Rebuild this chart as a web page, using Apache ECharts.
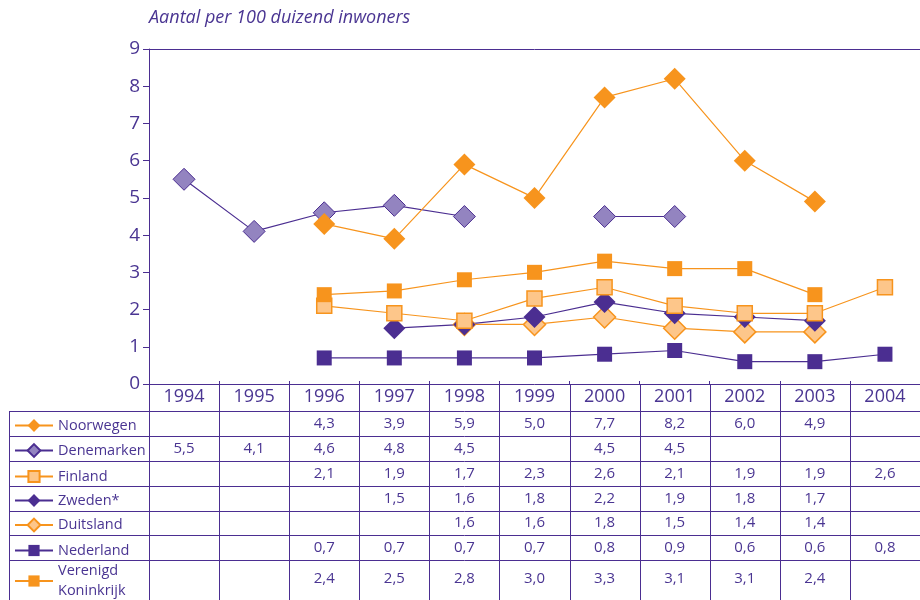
<!DOCTYPE html>
<html>
<head>
<meta charset="utf-8">
<script src="https://cdn.jsdelivr.net/npm/echarts@6/dist/echarts.min.js"></script>
<style>
html,body{margin:0;padding:0;background:#fff;}
#c{width:920px;height:600px;}
</style>
</head>
<body>
<div id="c"></div>
<script>
// ---- data ----
const years = ['1994','1995','1996','1997','1998','1999','2000','2001','2002','2003','2004'];
const yTicks = [0,1,2,3,4,5,6,7,8,9];
const titleText = 'Aantal per 100 duizend inwoners';
const noorwegen  = [null,null,4.3,3.9,5.9,5.0,7.7,8.2,6.0,4.9,null];
const denemarken = [5.5,4.1,4.6,4.8,4.5,null,4.5,4.5,null,null,null];
const finland    = [null,null,2.1,1.9,1.7,2.3,2.6,2.1,1.9,1.9,2.6];
const zweden     = [null,null,null,1.5,1.6,1.8,2.2,1.9,1.8,1.7,null];
const duitsland  = [null,null,null,null,1.6,1.6,1.8,1.5,1.4,1.4,null];
const nederland  = [null,null,0.7,0.7,0.7,0.7,0.8,0.9,0.6,0.6,0.8];
const vk         = [null,null,2.4,2.5,2.8,3.0,3.3,3.1,3.1,2.4,null];
const tableOrder = ['Noorwegen','Denemarken','Finland','Zweden*','Duitsland','Nederland','Verenigd Koninkrijk'];

// ---- styles ----
const PURPLE = '#4B2E91';
const TEXT = '#4A3592';
const ORANGE = '#F7941D';
const LORANGE = '#FDC68A';
const LAVENDER = '#9384C0';
const FONT = '"Open Sans", "Noto Sans", sans-serif';

const defs = {
  'Noorwegen':  {data: noorwegen,  symbol:'diamond', size:22, fill:ORANGE,   border:ORANGE, line:ORANGE, bw:0},
  'Denemarken': {data: denemarken, symbol:'diamond', size:22, fill:LAVENDER, border:PURPLE, line:PURPLE, bw:1},
  'Finland':    {data: finland,    symbol:'rect',    size:15, fill:LORANGE,  border:ORANGE, line:ORANGE, bw:1.5},
  'Zweden*':    {data: zweden,     symbol:'diamond', size:22, fill:PURPLE,   border:PURPLE, line:PURPLE, bw:0},
  'Duitsland':  {data: duitsland,  symbol:'diamond', size:22, fill:LORANGE,  border:ORANGE, line:ORANGE, bw:1.5},
  'Nederland':  {data: nederland,  symbol:'rect',    size:15, fill:PURPLE,   border:PURPLE, line:PURPLE, bw:0},
  'Verenigd Koninkrijk': {data: vk, symbol:'rect',   size:15, fill:ORANGE,   border:ORANGE, line:ORANGE, bw:0}
};
// drawing order (later on top)
const drawOrder = ['Nederland','Duitsland','Zweden*','Finland','Verenigd Koninkrijk','Denemarken','Noorwegen'];

// table layout (pixels)
const rowLines = [411, 436, 461, 486, 511, 535, 560, 600];
const rowCenters = [423.5, 448.5, 473.5, 498.5, 523, 547.5, 579];
const tableLeft = 9;

const chart = echarts.init(document.getElementById('c'), null, {renderer:'canvas'});

const series = drawOrder.map(name => {
  const d = defs[name];
  return {
    name: name,
    type: 'line',
    data: d.data,
    symbol: d.symbol,
    symbolSize: d.size,
    showAllSymbol: true,
    connectNulls: false,
    itemStyle: {color: d.fill, borderColor: d.border, borderWidth: d.bw},
    lineStyle: {color: d.line, width: 1.2},
    emphasis: {disabled: true},
    z: 3
  };
});

const legends = tableOrder.map((name, i) => {
  const d = defs[name];
  const ih = d.symbol === 'diamond' ? 16 : 14;
  const multi = name.indexOf(' ') >= 0;
  return {
    data: [name],
    left: 14,
    top: multi ? rowCenters[i] - 18 : rowCenters[i] - ih / 2,
    orient: 'vertical',
    padding: 0,
    itemWidth: 38,
    itemHeight: ih,
    selectedMode: false,
    formatter: n => n.replace(' ', '\n'),
    textStyle: {color: TEXT, fontSize: 14.5, fontFamily: FONT, lineHeight: 20}
  };
});

chart.setOption({
  animation: false,
  backgroundColor: '#fff',
  title: {
    text: titleText,
    left: 149, top: 9, padding: 0,
    textStyle: {color: TEXT, fontSize: 18, fontStyle: 'italic', fontWeight: 'normal', fontFamily: FONT}
  },
  legend: legends,
  grid: {left: 149, top: 49, width: 772, height: 335, containLabel: false},
  xAxis: [{
    type: 'category',
    data: years,
    boundaryGap: true,
    position: 'bottom',
    axisLine: {show: true, lineStyle: {color: PURPLE, width: 1}},
    axisTick: {show: true, inside: true, length: 3, lineStyle: {color: PURPLE}},
    axisLabel: {color: TEXT, fontSize: 18, fontFamily: FONT, margin: 4, interval: 0},
    splitLine: {show: false}
  }, {
    type: 'category',
    data: years,
    position: 'top',
    axisLine: {show: true, lineStyle: {color: PURPLE, width: 1}},
    axisTick: {show: false},
    axisLabel: {show: false},
    splitLine: {show: false}
  }],
  yAxis: {
    type: 'value',
    min: yTicks[0], max: yTicks[yTicks.length - 1], interval: 1,
    axisLine: {show: true, lineStyle: {color: PURPLE, width: 1}},
    axisTick: {show: true, length: 6, lineStyle: {color: PURPLE}},
    axisLabel: {color: TEXT, fontSize: 19, fontFamily: FONT, margin: 9},
    splitLine: {show: false}
  },
  series: series
});

// ---- data table built from the axis scale ----
const centers = years.map((y, i) => chart.convertToPixel({xAxisIndex: 0}, i));
const bw = centers[1] - centers[0];
const graphics = [];
const lineStyle = {stroke: PURPLE, lineWidth: 1};
// vertical column boundaries
for (let i = 0; i <= years.length; i++) {
  const x = Math.round(centers[0] - bw / 2 + i * bw) + 0.5;
  graphics.push({type: 'line', silent: true, z: 1, shape: {x1: x, y1: 384, x2: x, y2: 600}, style: lineStyle});
}
// left border of the legend column
graphics.push({type: 'line', silent: true, z: 1, shape: {x1: tableLeft + 0.5, y1: rowLines[0], x2: tableLeft + 0.5, y2: 600}, style: lineStyle});
// horizontal row lines
rowLines.slice(0, -1).forEach(y => {
  graphics.push({type: 'line', silent: true, z: 1, shape: {x1: tableLeft, y1: y + 0.5, x2: 920, y2: y + 0.5}, style: lineStyle});
});
// values
tableOrder.forEach((name, r) => {
  defs[name].data.forEach((v, i) => {
    if (v === null) return;
    graphics.push({
      type: 'text', silent: true, z: 2,
      x: centers[i], y: rowCenters[r],
      style: {text: v.toFixed(1).replace('.', ','), fill: TEXT, fontSize: 15, fontFamily: FONT, align: 'center', verticalAlign: 'middle'}
    });
  });
});
chart.setOption({graphic: graphics});
</script>
</body>
</html>
